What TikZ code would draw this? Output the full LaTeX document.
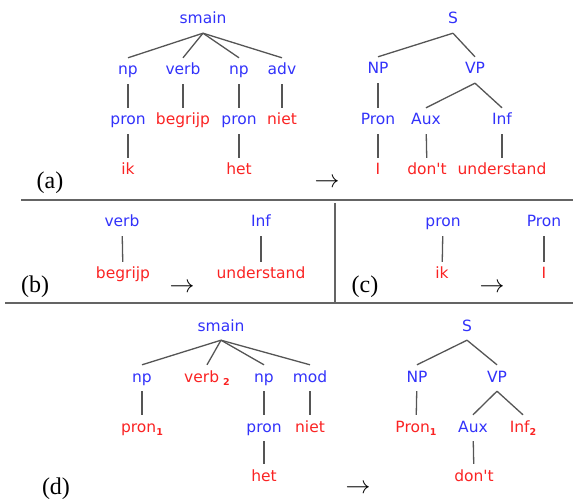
\documentclass[tikz,border=0pt]{standalone}
\usepackage{fontspec}
\setmainfont{Liberation Serif}
\setsansfont{DejaVu Sans}
\usepackage{tikz}

\definecolor{catblue}{RGB}{50,50,250}
\definecolor{wordred}{RGB}{250,35,35}
\definecolor{branchgray}{RGB}{85,85,85}
\definecolor{rulegray}{RGB}{100,100,100}

\newcommand{\treefont}{\sffamily\fontsize{15.5}{18}\selectfont}
\newcommand{\tagfont}{\rmfamily\fontsize{24}{28}\selectfont}
\newcommand{\idx}[1]{\raisebox{-3pt}{\fontsize{9.5}{10}\selectfont\bfseries #1}}
\newcommand{\apos}{\textquotesingle}

\begin{document}
\begin{tikzpicture}[
    x=1pt, y=-1pt,
    catnode/.style={
        font=\treefont,
        text=catblue,
        inner sep=6pt,
        text height=11pt,
        text depth=3pt
    },
    wordnode/.style={catnode, text=wordred},
    panel/.style={font=\tagfont, inner sep=0pt},
    branch/.style={draw=branchgray, line width=1.3pt},
    separator/.style={draw=rulegray, line width=2pt}
]
\useasboundingbox (0,0) rectangle (587,500);

% (a) arbol holandes
\node[catnode] (smA) at (203,20) {smain};
\node[catnode] (npA) at (128,71) {np};
\node[catnode] (verbA) at (183,71) {verb};
\node[catnode] (npB) at (239,71) {np};
\node[catnode] (advA) at (282,71) {adv};
\node[catnode] (pronA) at (128,121) {pron};
\node[wordnode] (begrijpA) at (183,121) {begrijp};
\node[catnode] (pronB) at (239,121) {pron};
\node[wordnode] (nietA) at (282,121) {niet};
\node[wordnode] (ikA) at (128,171) {ik};
\node[wordnode] (hetA) at (239,171) {het};

% (a) arbol ingles
\node[catnode] (sA) at (453,20) {S};
\node[catnode] (NPA) at (378,70) {NP};
\node[catnode] (VPA) at (475,70) {VP};
\node[catnode] (PronA) at (378,121) {Pron};
\node[catnode] (AuxA) at (426,121) {Aux};
\node[catnode] (InfA) at (502,121) {Inf};
\node[wordnode] (IA) at (378,171) {I};
\node[wordnode] (dontA) at (427,171) {don\apos t};
\node[wordnode] (understandA) at (502,171) {understand};

\node[panel] (tagA) at (50,183) {(a)};
\node[panel] (arrA) at (327,183) {$\rightarrow$};

\draw[branch] (smA.south) -- (npA.north);
\draw[branch] (smA.south) -- (verbA.north);
\draw[branch] (smA.south) -- (npB.north);
\draw[branch] (smA.south) -- (advA.north);
\draw[branch] (npA) -- (pronA);
\draw[branch] (verbA) -- (begrijpA);
\draw[branch] (npB) -- (pronB);
\draw[branch] (advA) -- (nietA);
\draw[branch] (pronA) -- (ikA);
\draw[branch] (pronB) -- (hetA);

\draw[branch] (sA.south) -- (NPA.north);
\draw[branch] (sA.south) -- (VPA.north);
\draw[branch] (NPA) -- (PronA);
\draw[branch] (VPA.south) -- (AuxA.north);
\draw[branch] (VPA.south) -- (InfA.north);
\draw[branch] (PronA) -- (IA);
\draw[branch] (AuxA) -- (dontA);
\draw[branch] (InfA) -- (understandA);

% lineas de separacion
\coordinate (ruleAl) at (21,200);
\coordinate (ruleAr) at (573,200);
\coordinate (ruleBl) at (5,303);
\coordinate (ruleBr) at (573,303);
\coordinate (divT) at (335,203);
\coordinate (divB) at (335,303);
\draw[separator] (ruleAl) -- (ruleAr);
\draw[separator] (ruleBl) -- (ruleBr);
\draw[separator] (divT) -- (divB);

% (b) y (c)
\node[catnode] (verbB) at (122,223) {verb};
\node[wordnode] (begrijpB) at (123,275) {begrijp};
\node[catnode] (InfB) at (261,223) {Inf};
\node[wordnode] (understandB) at (261,275) {understand};
\node[panel] (tagB) at (35,287) {(b)};
\node[panel] (arrB) at (182,288) {$\rightarrow$};
\draw[branch] (verbB) -- (begrijpB);
\draw[branch] (InfB) -- (understandB);

\node[catnode] (pronC) at (443,223) {pron};
\node[wordnode] (ikC) at (442,275) {ik};
\node[catnode] (PronC) at (544,223) {Pron};
\node[wordnode] (IC) at (544,275) {I};
\node[panel] (tagC) at (365,287) {(c)};
\node[panel] (arrC) at (492,288) {$\rightarrow$};
\draw[branch] (pronC) -- (ikC);
\draw[branch] (PronC) -- (IC);

% (d) regla con variables
\node[catnode] (smD) at (221,327) {smain};
\node[catnode] (npD) at (142,378) {np};
\node[wordnode] (verbD) at (207,378) {verb\kern4pt\idx{2}};
\node[catnode] (npE) at (264,378) {np};
\node[catnode] (modD) at (310,378) {mod};
\node[wordnode] (pronD) at (142,428) {pron\idx{1}};
\node[catnode] (pronE) at (264,428) {pron};
\node[wordnode] (nietD) at (310,428) {niet};
\node[wordnode] (hetD) at (264,477) {het};

\node[catnode] (sD) at (467,327) {S};
\node[catnode] (NPD) at (417,378) {NP};
\node[catnode] (VPD) at (497,378) {VP};
\node[wordnode] (PronD) at (416,428) {Pron\idx{1}};
\node[catnode] (AuxD) at (473,428) {Aux};
\node[wordnode] (InfD) at (523,428) {Inf\idx{2}};
\node[wordnode] (dontD) at (474,477) {don\apos t};

\node[panel] (tagD) at (56,489) {(d)};
\node[panel] (arrD) at (358,489) {$\rightarrow$};

\draw[branch] (smD.south) -- (npD.north);
\draw[branch] (smD.south) -- (verbD.north);
\draw[branch] (smD.south) -- (npE.north);
\draw[branch] (smD.south) -- (modD.north);
\draw[branch] (npD) -- (pronD);
\draw[branch] (npE) -- (pronE);
\draw[branch] (modD) -- (nietD);
\draw[branch] (pronE) -- (hetD);

\draw[branch] (sD.south) -- (NPD.north);
\draw[branch] (sD.south) -- (VPD.north);
\draw[branch] (NPD) -- (PronD);
\draw[branch] (VPD.south) -- (AuxD.north);
\draw[branch] (VPD.south) -- (InfD.north);
\draw[branch] (AuxD) -- (dontD);

\end{tikzpicture}
\end{document}
